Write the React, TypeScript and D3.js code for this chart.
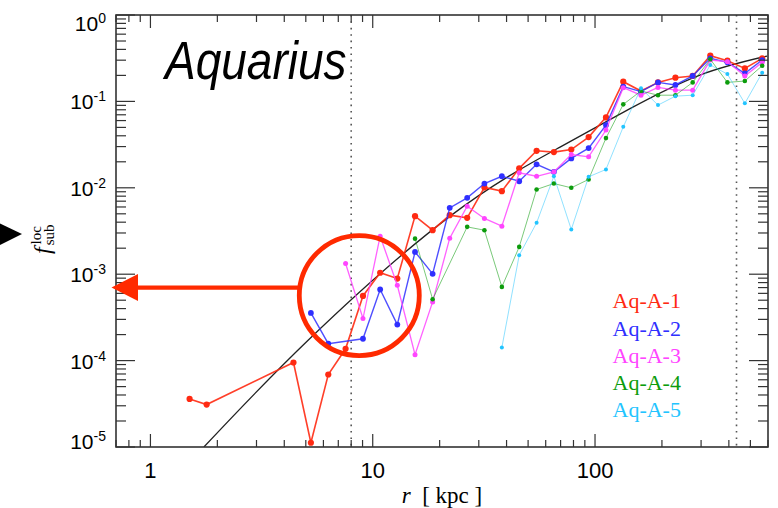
import React from 'react';
import * as d3 from 'd3';

const W = 778;
const H = 508;

// Radial bins (kpc), log-spaced
const radii = [
  1.50, 1.79, 2.14, 2.57, 3.07, 3.68, 4.40, 5.27, 6.31, 7.55, 9.04, 10.8, 12.9, 15.5,
  18.6, 22.2, 26.6, 31.8, 38.1, 45.6, 54.6, 65.3, 78.2, 93.6, 112, 134, 161, 192, 230,
  275, 330, 394, 472, 565,
];

// Local subhalo mass fraction per bin for each resolution level (null = no subhaloes)
const aqA1 = [
  3.6e-5, 3.1e-5, null, null, null, null, 9.5e-5, 1.12e-5, 6.9e-5, 1.37e-4, 5.6e-4, 1.04e-3,
  8.9e-4, 4.7e-3, 3.23e-3, 4.82e-3, 4.49e-3, 1.01e-2, 9.15e-3, 1.68e-2, 2.68e-2, 2.59e-2,
  2.77e-2, 3.86e-2, 6.53e-2, 0.169, 0.132, 0.166, 0.188, 0.197, 0.338, 0.296, 0.241, 0.315,
];
const aqA2 = [
  null, null, null, null, null, null, null, 3.56e-4, 1.57e-4, null, 1.79e-4, 6.65e-4,
  2.61e-4, 1.81e-3, 1.01e-3, 5.86e-3, 7.65e-3, 1.12e-2, 1.36e-2, 1.19e-2, 1.87e-2, 1.53e-2,
  2.19e-2, 2.88e-2, 5.32e-2, 0.148, 0.130, 0.166, 0.155, 0.197, 0.315, 0.283, 0.211, 0.301,
];
const aqA3 = [
  null, null, null, null, null, null, null, null, null, 1.33e-3, 3.07e-4, 2.75e-3,
  7.45e-4, 1.17e-4, 4.78e-4, 2.61e-3, 6.13e-3, 4.42e-3, 3.60e-3, 1.49e-2, 1.36e-2, 1.53e-2,
  2.43e-2, 2.28e-2, 4.66e-2, 0.144, 0.118, 0.145, 0.135, 0.135, 0.301, 0.288, 0.197, 0.283,
];
const aqA4 = [
  null, null, null, null, null, null, null, null, null, null, null, null,
  null, 2.58e-3, 5.13e-4, null, 3.53e-3, 3.23e-3, 7.13e-4, 2.07e-3, 9.57e-3, 1.12e-2,
  1.00e-2, 1.25e-2, 3.76e-2, 9.24e-2, 0.132, 0.118, 0.118, 0.166, 0.307, 0.166, 0.172, 0.259,
];
const aqA5 = [
  null, null, null, null, null, null, null, null, null, null, null, null,
  null, null, null, null, null, null, 1.42e-4, 1.66e-3, 3.93e-3, 1.36e-2,
  3.29e-3, 1.34e-2, 1.63e-2, 5.08e-2, 0.142, 9.06e-2, 0.115, 0.118, 0.264, 0.207, 9.49e-2, 0.215,
];

const seriesNames = ['Aq-A-1', 'Aq-A-2', 'Aq-A-3', 'Aq-A-4', 'Aq-A-5'];
const seriesValues = [aqA1, aqA2, aqA3, aqA4, aqA5];
const seriesColors = ['#ff2a12', '#2f2fff', '#ff45ff', '#0c9c0c', '#22c4ff'];

// Fitted profile, sampled along the curve
const fitR = [1.74, 5.12, 22.3, 69.6, 143.7, 296.6, 594];
const fitF = [1.0e-5, 1.72e-4, 4.70e-3, 2.96e-2, 8.26e-2, 0.202, 0.335];

// Reference radii (solar circle, virial radius)
const refRadii = [8, 433];

const xTickValues = [1, 10, 100];
const xTickLabels = ['1', '10', '100'];
const yTickExponents = [0, -1, -2, -3, -4, -5];

// Highlighted region around the solar circle
const markR = 8.7;
const markF = 5.66e-4;
const arrowF = 7.0e-4;

const left = 116;
const right = 768;
const top = 15;
const bottom = 447;

const x = d3.scaleLog().domain([0.7, 600]).range([left, right]);
const y = d3.scaleLog().domain([1e-5, 1]).range([bottom, top]);

const styles = [
  { lw: 1.6, lo: 0.9, r: 3.1 },
  { lw: 1.4, lo: 0.85, r: 2.9 },
  { lw: 1.3, lo: 0.85, r: 2.5 },
  { lw: 1.0, lo: 0.55, r: 2.3 },
  { lw: 1.0, lo: 0.5, r: 2.0 },
];

function minorValues(dMin: number, dMax: number, lo: number, hi: number) {
  const out: { v: number; major: boolean }[] = [];
  for (let d = dMin; d <= dMax * 1.0001; d *= 10) {
    for (let m = 1; m <= 9; m++) {
      const v = m * d;
      if (v >= lo * 0.9999 && v <= hi * 1.0001) out.push({ v, major: m === 1 });
    }
  }
  return out;
}

export default function App() {
  const xTicks = minorValues(0.1, 100, 0.7, 600);
  const yTicks = minorValues(1e-5, 1, 1e-5, 1);

  const line = d3
    .line<[number, number]>()
    .x((d) => x(d[0]))
    .y((d) => y(d[1]));

  const fitPath = d3
    .line<[number, number]>()
    .x((d) => x(d[0]))
    .y((d) => y(d[1]))
    .curve(d3.curveNatural)(fitR.map((r, i) => [r, fitF[i]] as [number, number]));

  const series = seriesValues.map((vals) =>
    vals
      .map((v, i) => (v == null ? null : ([radii[i], v] as [number, number])))
      .filter((p): p is [number, number] => p !== null)
  );

  const cx = x(markR);
  const cy = y(markF);
  const ay = y(arrowF);

  const axisColor = '#333';

  return (
    <svg width={W} height={H} style={{ position: 'absolute', left: 0, top: 0, background: '#fff' }}>
      <defs>
        <clipPath id="plotArea">
          <rect x={left} y={top} width={right - left} height={bottom - top} />
        </clipPath>
      </defs>

      {/* reference radii */}
      {refRadii.map((r) => (
        <line
          key={r}
          x1={x(r)}
          x2={x(r)}
          y1={top}
          y2={bottom}
          stroke="#555"
          strokeWidth={1.6}
          strokeDasharray="1.6,4.8"
        />
      ))}

      <g clipPath="url(#plotArea)">
        <path d={fitPath || ''} fill="none" stroke="#222" strokeWidth={1.3} />
        {series.map((pts, si) => (
          <g key={si}>
            <path
              d={line(pts) || ''}
              fill="none"
              stroke={seriesColors[si]}
              strokeWidth={styles[si].lw}
              strokeOpacity={styles[si].lo}
            />
            {pts.map((p, i) => (
              <circle key={i} cx={x(p[0])} cy={y(p[1])} r={styles[si].r} fill={seriesColors[si]} />
            ))}
          </g>
        ))}
      </g>

      {/* frame */}
      <rect x={left} y={top} width={right - left} height={bottom - top} fill="none" stroke={axisColor} strokeWidth={1.6} />

      {/* x ticks, bottom and top */}
      {xTicks.map((t, i) => {
        const px = x(t.v);
        const len = t.major ? 13 : 7;
        return (
          <g key={'xt' + i} stroke={axisColor} strokeWidth={1.2}>
            <line x1={px} x2={px} y1={bottom} y2={bottom - len} />
            <line x1={px} x2={px} y1={top} y2={top + len} />
          </g>
        );
      })}
      {/* y ticks, left and right */}
      {yTicks.map((t, i) => {
        const py = y(t.v);
        const len = t.major ? 19 : 10;
        return (
          <g key={'yt' + i} stroke={axisColor} strokeWidth={1.2}>
            <line x1={left} x2={left + len} y1={py} y2={py} />
            <line x1={right} x2={right - len} y1={py} y2={py} />
          </g>
        );
      })}

      {/* tick labels */}
      {xTickValues.map((v, i) => (
        <text
          key={'xl' + i}
          x={x(v)}
          y={478}
          textAnchor="middle"
          fontFamily="'Liberation Sans', Arial, sans-serif"
          fontSize={22}
          fill="#000"
        >
          {xTickLabels[i]}
        </text>
      ))}
      {yTickExponents.map((e) => {
        const py = y(Math.pow(10, e));
        const c = Math.min(Math.max(py, top + 7.5), bottom - 6.5);
        return (
          <text
            key={'yl' + e}
            x={106}
            y={c + 8}
            textAnchor="end"
            fontFamily="'Liberation Sans', Arial, sans-serif"
            fontSize={21}
            fill="#000"
          >
            <tspan>10</tspan>
            <tspan fontSize={14} dy={-8}>
              {String(e)}
            </tspan>
          </text>
        );
      })}

      {/* axis titles */}
      <text
        x={(left + right) / 2}
        y={503}
        textAnchor="middle"
        fontFamily="'Liberation Serif', 'Times New Roman', serif"
        fontSize={23}
        fill="#000"
        style={{ whiteSpace: 'pre' }}
      >
        <tspan fontStyle="italic">r</tspan>
        {'  [ kpc ]'}
      </text>
      <text
        transform="translate(50,254) rotate(-90)"
        fontFamily="'Liberation Serif', 'Times New Roman', serif"
        fontSize={24}
        fill="#000"
      >
        <tspan fontStyle="italic">f</tspan>
        <tspan fontSize={15} dx={2} dy={4}>sub</tspan>
        <tspan fontSize={15} dx={-20} dy={-13}>loc</tspan>
      </text>

      {/* title */}
      <text
        transform="translate(165,79) scale(1,1.16)"
        fontFamily="'Liberation Sans', Arial, sans-serif"
        fontStyle="italic"
        fontSize={46}
        fill="#000"
      >
        Aquarius
      </text>

      {/* legend */}
      {seriesNames.map((n, i) => (
        <text
          key={n}
          x={612.5}
          y={308.3 + i * 27.25}
          fontFamily="'Liberation Serif', 'Times New Roman', serif"
          fontSize={22}
          fill={seriesColors[i]}
        >
          {n}
        </text>
      ))}

      {/* highlight circle and arrow */}
      <circle cx={cx} cy={cy} r={60} fill="none" stroke="#ff2a00" strokeWidth={4.8} />
      <line x1={cx - 60} x2={136} y1={ay} y2={ay} stroke="#ff2a00" strokeWidth={4.3} />
      <polygon points={`111.5,${ay} 138,${ay - 13.5} 138,${ay + 13.5}`} fill="#ff2a00" />

      {/* pointer at the y-axis title */}
      <polygon points="0,223.5 22,234 0,245" fill="#000" />
    </svg>
  );
}
